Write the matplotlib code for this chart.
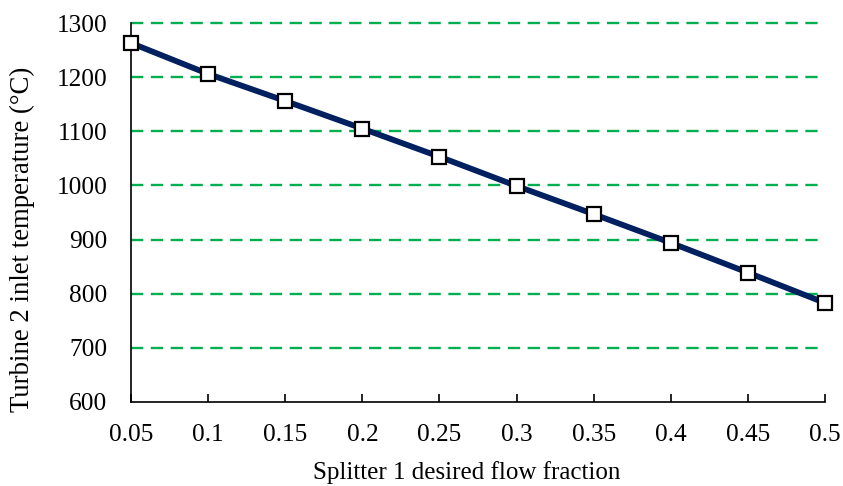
import matplotlib
matplotlib.use("Agg")
import matplotlib.pyplot as plt

fraction = [0.05, 0.1, 0.15, 0.2, 0.25, 0.3, 0.35, 0.4, 0.45, 0.5]
temperature = [1263, 1206, 1156, 1105, 1053, 999, 947, 894, 839, 783]
xticks = [0.05, 0.1, 0.15, 0.2, 0.25, 0.3, 0.35, 0.4, 0.45, 0.5]
xtick_labels = ["0.05", "0.1", "0.15", "0.2", "0.25", "0.3", "0.35", "0.4", "0.45", "0.5"]
yticks = [600, 700, 800, 900, 1000, 1100, 1200, 1300]

plt.rcParams['font.family'] = ['Liberation Serif', 'DejaVu Serif']

fig = plt.figure(figsize=(8.43, 4.86), dpi=100)
ax = fig.add_axes([131/843, 1 - 402/486, (825 - 131)/843, (402 - 23)/486])

for y in yticks[1:]:
    gl = ax.axhline(y, color='#00B050', lw=1.7, ls=(0, (5.2, 3.2)), zorder=1)
    gl.set_clip_on(False)

ax.plot(fraction, temperature, color='#002060', lw=4.2, marker='s', ms=9.6,
        mfc='white', mec='black', mew=1.6, zorder=3, clip_on=False)

ax.set_xlim(0.05, 0.5)
ax.set_ylim(600, 1300)
ax.set_xticks(xticks)
ax.set_xticklabels(xtick_labels)
ax.set_yticks(yticks)
ax.tick_params(axis='x', direction='in', length=6, width=1.2, color='black', labelsize=18.3, pad=16)
ax.tick_params(axis='y', length=0, labelsize=18.3, pad=17)
for s in ['top', 'right']:
    ax.spines[s].set_visible(False)
for s in ['left', 'bottom']:
    ax.spines[s].set_color('black')
    ax.spines[s].set_linewidth(1.2)

ax.set_xlabel('Splitter 1 desired flow fraction', fontsize=18, labelpad=11)
ax.xaxis.label.set_x((467 - 131) / 694)
ax.set_ylabel('Turbine 2 inlet temperature (°C)', fontsize=19.3)
ax.yaxis.set_label_coords((35 - 131) / 694, (402 - 239) / 379)

fig.savefig('out.png', dpi=100)
